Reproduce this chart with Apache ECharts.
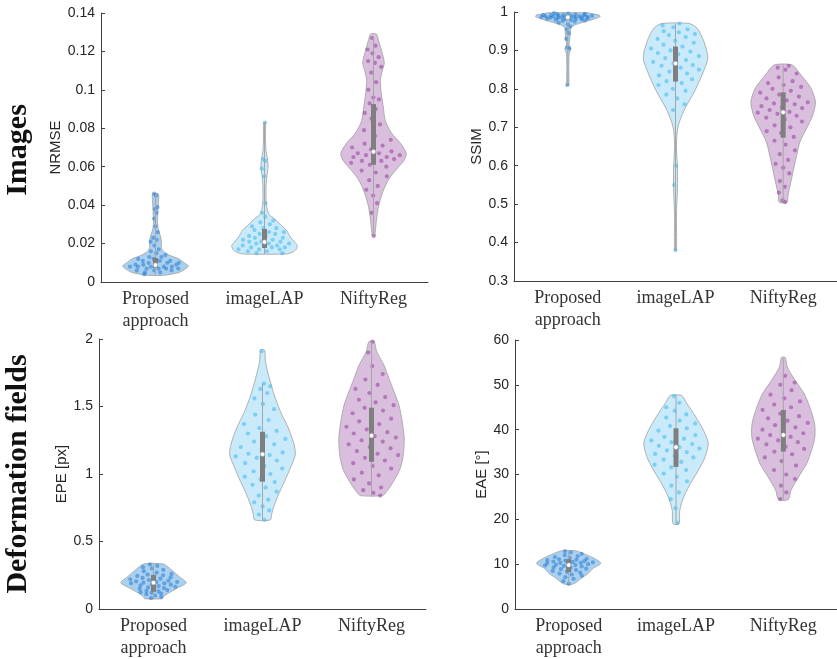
<!DOCTYPE html>
<html>
<head>
<meta charset="utf-8">
<script src="https://cdn.jsdelivr.net/npm/echarts@6/dist/echarts.min.js"></script>
<style>
  html, body { margin: 0; padding: 0; background: #fff; }
  #chart { width: 837px; height: 659px; }
</style>
</head>
<body>
<div id="chart"></div>
<script>
// categories
const categories = ['Proposed\napproach', 'imageLAP', 'NiftyReg'];

// sample values
const nrmseProposed = [0.004,0.005,0.005,0.006,0.006,0.006,0.007,0.007,0.007,0.007,0.008,0.008,0.008,0.008,0.008,0.009,0.009,0.009,0.009,0.010,0.010,0.010,0.011,0.011,0.011,0.012,0.012,0.013,0.013,0.014,0.015,0.016,0.017,0.019,0.021,0.022,0.023,0.026,0.029,0.033,0.036,0.038,0.039,0.045,0.046];
const nrmseLap = [0.015,0.015,0.016,0.016,0.017,0.017,0.017,0.018,0.018,0.018,0.019,0.019,0.019,0.020,0.020,0.020,0.021,0.021,0.021,0.022,0.022,0.023,0.023,0.024,0.024,0.025,0.025,0.026,0.026,0.027,0.028,0.028,0.029,0.030,0.031,0.032,0.034,0.036,0.041,0.055,0.059,0.063,0.064,0.083];
const nrmseNifty = [0.024,0.036,0.041,0.045,0.048,0.050,0.053,0.055,0.057,0.058,0.060,0.061,0.062,0.063,0.063,0.064,0.064,0.065,0.065,0.066,0.066,0.067,0.067,0.068,0.069,0.070,0.071,0.072,0.074,0.076,0.079,0.082,0.085,0.088,0.090,0.093,0.095,0.096,0.100,0.104,0.109,0.112,0.114,0.115,0.117,0.119,0.121,0.123,0.127];

const ssimProposed = [0.81,0.905,0.908,0.93,0.945,0.955,0.962,0.968,0.972,0.975,0.977,0.978,0.979,0.98,0.981,0.982,0.983,0.983,0.984,0.984,0.985,0.985,0.986,0.986,0.987,0.987,0.988,0.988,0.988,0.989,0.989,0.99,0.99,0.99,0.991,0.991,0.992,0.992,0.993,0.994,0.995,0.996,0.997];
const ssimLap = [0.38,0.55,0.6,0.745,0.76,0.775,0.785,0.795,0.80,0.81,0.815,0.82,0.825,0.83,0.835,0.84,0.845,0.85,0.855,0.86,0.862,0.866,0.87,0.875,0.88,0.885,0.89,0.893,0.897,0.90,0.905,0.91,0.915,0.92,0.925,0.93,0.935,0.94,0.943,0.947,0.95,0.955,0.96,0.965,0.97];
const ssimNifty = [0.505,0.51,0.53,0.545,0.56,0.58,0.595,0.605,0.615,0.63,0.64,0.655,0.665,0.675,0.685,0.69,0.70,0.705,0.715,0.72,0.725,0.73,0.735,0.738,0.74,0.745,0.75,0.752,0.755,0.76,0.762,0.765,0.77,0.775,0.78,0.785,0.79,0.795,0.80,0.805,0.81,0.815,0.82,0.83,0.84,0.85,0.855,0.86];

const epeProposed = [0.08,0.09,0.10,0.11,0.115,0.12,0.125,0.13,0.135,0.14,0.145,0.15,0.155,0.16,0.165,0.17,0.175,0.18,0.185,0.19,0.19,0.195,0.2,0.2,0.205,0.21,0.215,0.22,0.225,0.23,0.235,0.24,0.245,0.25,0.255,0.26,0.27,0.28,0.29,0.3,0.31,0.32,0.33];
const epeLap = [0.66,0.70,0.73,0.76,0.79,0.81,0.84,0.87,0.90,0.92,0.94,0.96,0.98,1.0,1.02,1.04,1.06,1.08,1.1,1.12,1.13,1.14,1.15,1.16,1.18,1.2,1.22,1.24,1.26,1.28,1.3,1.32,1.34,1.37,1.4,1.44,1.48,1.52,1.56,1.6,1.63,1.65,1.67,1.91];
const epeNifty = [0.84,0.86,0.88,0.9,0.93,0.96,0.99,1.01,1.04,1.06,1.08,1.1,1.12,1.14,1.15,1.17,1.19,1.2,1.22,1.24,1.25,1.27,1.28,1.3,1.31,1.33,1.35,1.37,1.39,1.41,1.43,1.45,1.47,1.49,1.51,1.53,1.55,1.57,1.6,1.63,1.66,1.7,1.74,1.8,1.9,1.98];

const eaeProposed = [5.6,6.2,6.7,7.1,7.4,7.7,7.9,8.1,8.3,8.5,8.7,8.9,9.0,9.2,9.3,9.5,9.6,9.7,9.8,9.9,10.0,10.1,10.2,10.3,10.3,10.4,10.5,10.6,10.7,10.8,10.9,11.0,11.1,11.2,11.4,11.6,11.8,12.0,12.3,12.6,12.9];
const eaeLap = [19.2,22.5,24.5,26.0,27.5,28.5,29.5,30.2,31.0,31.6,32.2,32.8,33.3,33.8,34.2,34.6,35.0,35.4,35.8,36.1,36.4,36.8,37.2,37.6,38.0,38.4,38.8,39.3,39.8,40.3,40.8,41.4,42.0,42.7,43.4,44.2,45.0,46.0,47.5];
const eaeNifty = [24.5,26.0,27.5,29.0,30.0,31.0,32.0,33.0,33.8,34.5,35.1,35.7,36.2,36.7,37.2,37.6,38.0,38.4,38.8,39.2,39.6,40.0,40.5,41.0,41.5,42.0,42.5,43.0,43.6,44.4,45.0,45.6,46.3,47.0,47.8,48.8,50.0,50.5,52.0];

// violin outlines: [value, relative density]
const nrmseProposedShape = [[0.0035,0.25],[0.005,0.72],[0.0075,0.97],[0.0085,1.0],[0.010,0.88],[0.012,0.72],[0.014,0.42],[0.016,0.24],[0.018,0.18],[0.021,0.18],[0.024,0.15],[0.027,0.09],[0.031,0.06],[0.035,0.07],[0.039,0.08],[0.042,0.09],[0.045,0.1],[0.046,0.08]];
const nrmseLapShape = [[0.0146,0.67],[0.0155,0.85],[0.017,0.97],[0.019,1.0],[0.021,0.91],[0.0235,0.79],[0.027,0.67],[0.030,0.48],[0.033,0.3],[0.035,0.15],[0.038,0.08],[0.042,0.05],[0.050,0.05],[0.056,0.08],[0.060,0.11],[0.064,0.09],[0.068,0.05],[0.075,0.03],[0.083,0.03]];
const nrmseNiftyShape = [[0.024,0.04],[0.0255,0.05],[0.032,0.09],[0.039,0.15],[0.0463,0.27],[0.053,0.45],[0.058,0.67],[0.0635,0.94],[0.067,1.0],[0.0723,0.82],[0.0775,0.55],[0.084,0.36],[0.091,0.3],[0.098,0.24],[0.105,0.21],[0.110,0.27],[0.114,0.33],[0.119,0.27],[0.126,0.15],[0.129,0.09]];

const ssimProposedShape = [[0.81,0.03],[0.85,0.03],[0.89,0.04],[0.905,0.09],[0.915,0.04],[0.93,0.06],[0.945,0.08],[0.955,0.08],[0.962,0.12],[0.968,0.27],[0.975,0.55],[0.982,0.82],[0.988,1.0],[0.992,0.97],[0.996,0.73],[0.998,0.62]];
const ssimLapShape = [[0.38,0.03],[0.472,0.03],[0.542,0.06],[0.594,0.06],[0.646,0.03],[0.688,0.05],[0.714,0.12],[0.75,0.3],[0.792,0.58],[0.836,0.82],[0.88,1.0],[0.923,0.88],[0.958,0.67],[0.97,0.42]];
const ssimNiftyShape = [[0.505,0.12],[0.524,0.15],[0.558,0.24],[0.594,0.33],[0.628,0.42],[0.662,0.52],[0.698,0.73],[0.732,0.92],[0.766,1.0],[0.802,0.86],[0.836,0.55],[0.862,0.28]];

const epeProposedShape = [[0.076,0.27],[0.089,0.3],[0.118,0.46],[0.155,0.73],[0.195,1.0],[0.239,0.79],[0.289,0.55],[0.333,0.3]];
const epeLapShape = [[0.66,0.24],[0.70,0.28],[0.748,0.33],[0.844,0.48],[0.943,0.67],[1.044,0.85],[1.14,1.0],[1.215,0.97],[1.34,0.79],[1.462,0.55],[1.585,0.36],[1.71,0.21],[1.832,0.09],[1.918,0.06]];
const epeNiftyShape = [[0.84,0.34],[0.869,0.46],[0.943,0.67],[1.042,0.88],[1.14,0.97],[1.264,1.0],[1.387,0.94],[1.51,0.84],[1.61,0.69],[1.71,0.53],[1.807,0.38],[1.906,0.16],[1.98,0.08]];

const eaeProposedShape = [[5.6,0.15],[6.85,0.39],[7.96,0.61],[9.08,0.76],[10.2,1.0],[11.3,0.79],[12.4,0.45],[13.0,0.21]];
const eaeLapShape = [[19.0,0.09],[22.1,0.12],[25.0,0.24],[28.0,0.45],[31.0,0.7],[34.0,0.91],[37.0,1.0],[39.9,0.85],[42.9,0.61],[45.9,0.33],[47.6,0.18]];
const eaeNiftyShape = [[24.4,0.15],[26.5,0.24],[29.5,0.48],[32.5,0.73],[35.5,0.88],[38.4,0.98],[41.4,0.97],[45.1,0.82],[48.1,0.64],[51.1,0.36],[54.0,0.12],[56.1,0.06]];

// [whisker low, q1, median, q3, whisker high]
const nrmseStats = [[0.0035,0.0073,0.0088,0.0125,0.046],[0.0146,0.0177,0.0208,0.0276,0.083],[0.024,0.061,0.0678,0.0926,0.128]];
const ssimStats = [[0.81,0.980,0.986,0.990,0.998],[0.38,0.819,0.866,0.910,0.97],[0.505,0.673,0.739,0.791,0.862]];
const epeStats = [[0.076,0.128,0.195,0.252,0.333],[0.66,0.943,1.146,1.313,1.67],[0.84,1.091,1.284,1.491,1.98]];
const eaeStats = [[5.6,8.2,9.8,11.1,13.0],[19.0,31.7,36.1,40.3,47.6],[24.4,35.1,38.8,44.4,56.0]];

const FILL = ['rgba(64,150,225,0.45)', 'rgba(125,205,242,0.42)', 'rgba(155,85,165,0.38)'];
const DOT = ['rgba(25,115,205,0.5)', 'rgba(50,178,236,0.5)', 'rgba(140,50,150,0.5)'];

const panels = [
  { values: [nrmseProposed, nrmseLap, nrmseNifty], shapes: [nrmseProposedShape, nrmseLapShape, nrmseNiftyShape], stats: nrmseStats },
  { values: [ssimProposed, ssimLap, ssimNifty], shapes: [ssimProposedShape, ssimLapShape, ssimNiftyShape], stats: ssimStats },
  { values: [epeProposed, epeLap, epeNifty], shapes: [epeProposedShape, epeLapShape, epeNiftyShape], stats: epeStats },
  { values: [eaeProposed, eaeLap, eaeNifty], shapes: [eaeProposedShape, eaeLapShape, eaeNiftyShape], stats: eaeStats },
];

function widthAt(shape, v) {
  if (v <= shape[0][0]) return shape[0][1];
  for (let k = 1; k < shape.length; k++) {
    if (v <= shape[k][0]) {
      const [v0, w0] = shape[k - 1], [v1, w1] = shape[k];
      return w0 + (w1 - w0) * (v - v0) / (v1 - v0);
    }
  }
  return shape[shape.length - 1][1];
}

function violinSeries(p, idx) {
  return {
    type: 'custom',
    xAxisIndex: idx, yAxisIndex: idx,
    data: [[0, 0], [1, 0], [2, 0]],
    encode: { x: 0, y: 1 },
    silent: true,
    renderItem(params, api) {
      const i = params.dataIndex;
      const band = api.size([1, 0])[0];
      const maxHw = band * 0.3;
      const shape = p.shapes[i];
      const cx = api.coord([i, shape[0][0]])[0];
      const right = [], left = [];
      shape.forEach(([v, w]) => {
        const y = api.coord([i, v])[1];
        right.push([cx + w * maxHw, y]);
        left.push([cx - w * maxHw, y]);
      });
      const children = [{
        type: 'polygon',
        shape: { points: right.concat(left.reverse()), smooth: 0.25 },
        style: { fill: FILL[i], stroke: '#a0a0a0', lineWidth: 0.8 },
      }];
      // jittered points
      p.values[i].forEach((v, j) => {
        const t = ((j * 0.6180339887 + i * 0.31 + idx * 0.17) % 1) * 2 - 1;
        const y = api.coord([i, v])[1];
        const x = cx + t * widthAt(shape, v) * maxHw * 0.85;
        children.push({ type: 'circle', shape: { cx: x, cy: y, r: 2.1 }, style: { fill: DOT[i] } });
      });
      const [lo, q1, med, q3, hi] = p.stats[i];
      const yLo = api.coord([i, lo])[1], yHi = api.coord([i, hi])[1];
      const yQ1 = api.coord([i, q1])[1], yQ3 = api.coord([i, q3])[1];
      const yMed = api.coord([i, med])[1];
      children.push({ type: 'line', shape: { x1: cx, y1: yLo, x2: cx, y2: yHi }, style: { stroke: '#a6a6a6', lineWidth: 1 } });
      children.push({ type: 'rect', shape: { x: cx - 2.5, y: yQ3, width: 5, height: yQ1 - yQ3 }, style: { fill: '#7f7f7f' } });
      children.push({ type: 'circle', shape: { cx: cx, cy: yMed, r: 2.3 }, style: { fill: '#fff', stroke: '#999', lineWidth: 0.6 } });
      return { type: 'group', children };
    },
  };
}

const grids = [
  { left: 101, top: 13, width: 327, height: 269 },
  { left: 514, top: 12, width: 327, height: 269 },
  { left: 99, top: 339, width: 327, height: 270 },
  { left: 515, top: 340, width: 327, height: 269 },
];

const yConf = [
  { min: 0, max: 0.14, interval: 0.02, name: 'NRMSE', nameGap: 33 },
  { min: 0.3, max: 1, interval: 0.1, name: 'SSIM', nameGap: 26 },
  { min: 0, max: 2, interval: 0.5, name: 'EPE [px]', nameGap: 26 },
  { min: 0, max: 60, interval: 10, name: 'EAE [°]', nameGap: 22 },
];

const axisColor = '#404040';

const option = {
  animation: false,
  backgroundColor: '#fff',
  grid: grids,
  xAxis: grids.map((g, k) => ({
    type: 'category',
    gridIndex: k,
    data: categories,
    boundaryGap: true,
    axisLine: { lineStyle: { color: axisColor, width: 1 } },
    axisTick: { inside: true, alignWithLabel: true, length: 4, lineStyle: { color: axisColor } },
    axisLabel: {
      interval: 0,
      margin: 6,
      fontFamily: 'Liberation Serif',
      fontSize: 18,
      lineHeight: 22,
      color: '#333',
      verticalAlign: 'top',
    },
    splitLine: { show: false },
  })),
  yAxis: yConf.map((c, k) => ({
    type: 'value',
    gridIndex: k,
    min: c.min, max: c.max, interval: c.interval,
    name: c.name,
    nameLocation: 'middle',
    nameGap: c.nameGap,
    nameTextStyle: { fontFamily: 'Liberation Sans', fontSize: 15, color: '#262626' },
    axisLine: { show: true, lineStyle: { color: axisColor, width: 1 } },
    axisTick: { show: true, inside: true, length: 4, lineStyle: { color: axisColor } },
    axisLabel: {
      margin: 6,
      fontFamily: 'Liberation Sans',
      fontSize: 14,
      color: '#262626',
      formatter: (v) => String(parseFloat(v.toFixed(3))),
    },
    splitLine: { show: false },
  })),
  graphic: [
    {
      type: 'text', x: 18, y: 150, rotation: Math.PI / 2,
      style: { text: 'Images', font: 'bold 30px "Liberation Serif"', fill: '#111', align: 'center', verticalAlign: 'middle' },
    },
    {
      type: 'text', x: 18, y: 474, rotation: Math.PI / 2,
      style: { text: 'Deformation fields', font: 'bold 30px "Liberation Serif"', fill: '#111', align: 'center', verticalAlign: 'middle' },
    },
  ],
  series: panels.map((p, k) => violinSeries(p, k)),
};

const chart = echarts.init(document.getElementById('chart'), null, { renderer: 'canvas' });
chart.setOption(option);
</script>
</body>
</html>
